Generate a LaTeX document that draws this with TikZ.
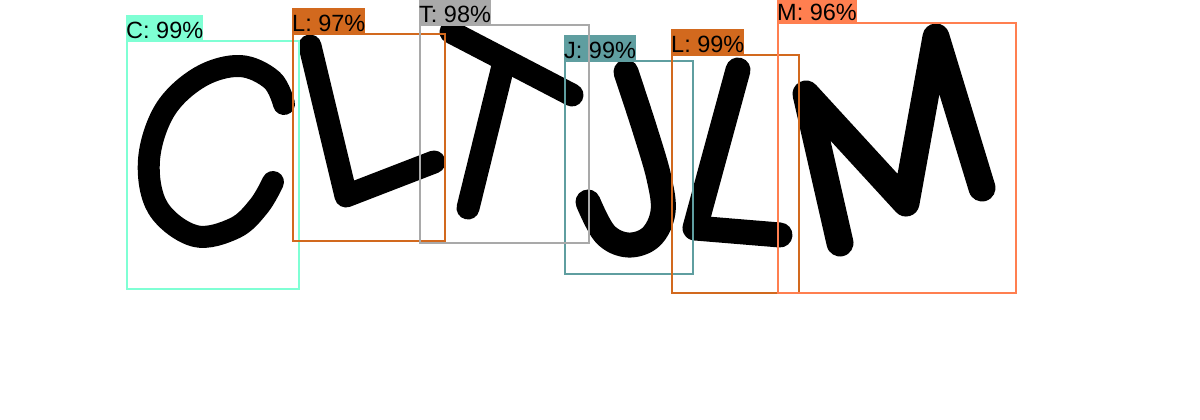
\documentclass[tikz,border=0pt]{standalone}
\usepackage{fontspec}
\setmainfont{Liberation Sans}
\definecolor{boxaqua}{RGB}{127,255,212}
\definecolor{boxchoc}{RGB}{210,105,30}
\definecolor{boxgray}{RGB}{169,169,169}
\definecolor{boxcadet}{RGB}{95,158,160}
\definecolor{boxcoral}{RGB}{255,127,80}
\tikzset{
  letter/.style={line width=#1, line cap=round, line join=round},
  letter/.default=23pt,
  detbox/.style={line width=2pt},
  detlabel/.style={anchor=south west, inner sep=0pt, text height=23pt,
    text depth=1.5pt, font=\fontsize{23.5}{27}\selectfont}
}

\begin{document}
\begin{tikzpicture}[x=1pt,y=-1pt]

    % Canvas (pixel coordinates, y pointing down)
    \useasboundingbox[fill=white] (0,0) rectangle (1200,420);

    % Handwritten letters
    \draw[letter=22pt] plot[smooth, tension=0.6] coordinates {(284,104) (272,80)
        (240,66) (200,77) (165,110) (149,160) (158,208) (195,236) (235,228)
        (259,206) (273,182)};
    \draw[letter] (310,46) -- (346,196) -- (434,162);
    \draw[letter] (451,32) -- (572,95);
    \draw[letter] (504,62) -- (468,208);
    \draw[letter=25pt] plot[smooth, tension=0.6] coordinates {(626,72) (645,130)
        (659,178) (663,212) (651,237) (628,245) (605,234) (588,202)};
    \draw[letter=25pt] (738,70) -- (695,228) -- (780,235);
    \draw[letter=27pt] (840,243) -- (806,94) -- (906,203) -- (936,37) -- (982,188);

    % Detection boxes with labels
    \foreach \n/\xa/\ya/\xb/\yb/\col/\txt in {
        c/127/41/299/289/boxaqua/C: 99\%,
        la/293/34/445/241/boxchoc/L: 97\%,
        j/565/61/693/274/boxcadet/J: 99\%,
        t/420/25/589/243/boxgray/T: 98\%,
        lb/672/55/799/293/boxchoc/L: 99\%,
        m/778/23/1016/293/boxcoral/M: 96\%} {
        \draw[detbox, \col] (\xa,\ya) rectangle (\xb,\yb);
        \node[detlabel, fill=\col] (lab-\n) at (\xa-1,\ya-1) {\txt};
    }

\end{tikzpicture}
\end{document}
